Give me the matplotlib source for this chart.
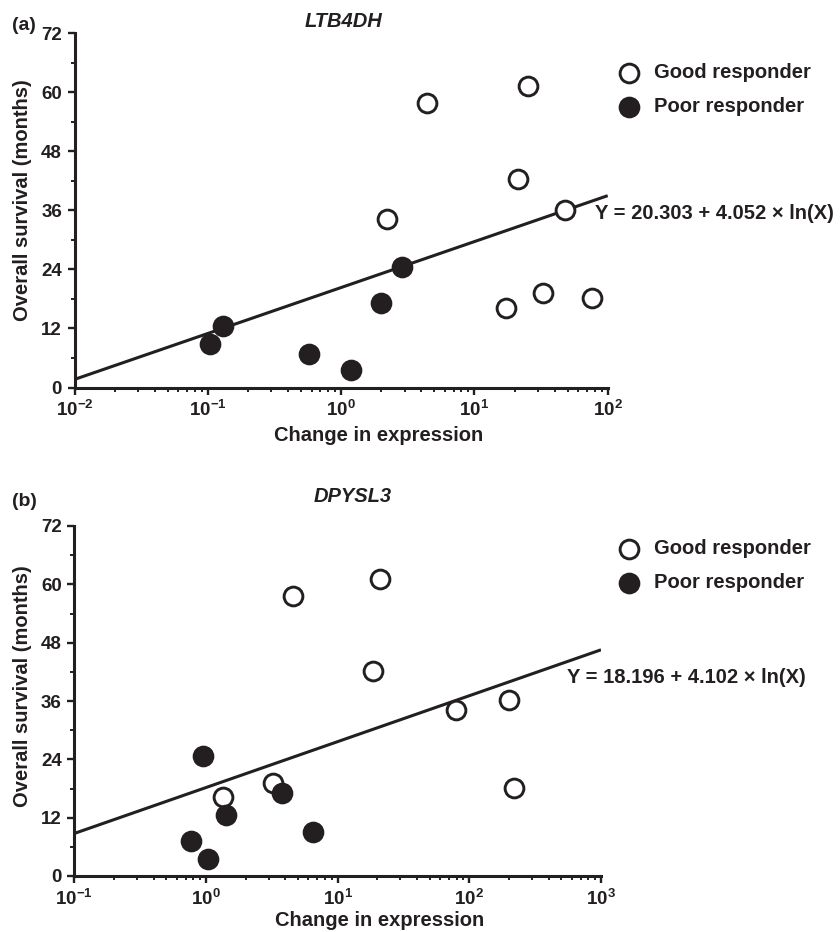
import numpy as np
import matplotlib
matplotlib.use("Agg")
import matplotlib.pyplot as plt
from matplotlib.ticker import FixedLocator, MultipleLocator, LogLocator, FuncFormatter

plt.rcParams["font.family"] = ["Liberation Sans", "DejaVu Sans"]
plt.rcParams["font.weight"] = "bold"
plt.rcParams["axes.labelweight"] = "bold"
plt.rcParams["mathtext.fontset"] = "custom"
plt.rcParams["mathtext.rm"] = "Liberation Sans:bold"
plt.rcParams["mathtext.bf"] = "Liberation Sans:bold"

INK = "#231f20"

# (a) LTB4DH
ltb_good_x = [2.22, 4.39, 25.1, 21.2, 47.9, 17.2, 32.5, 76.2]
ltb_good_y = [34.2, 57.8, 61.3, 42.3, 36.1, 16.1, 19.1, 18.1]
ltb_poor_x = [0.103, 0.129, 0.57, 1.18, 1.98, 2.86]
ltb_poor_y = [8.9, 12.4, 6.9, 3.5, 17.1, 24.5]
ltb_fit = (20.303, 4.052)
ltb_xrange = (1e-2, 1e2)

# (b) DPYSL3
dpy_good_x = [1.34, 3.24, 4.6, 20.9, 18.5, 78.7, 200, 218]
dpy_good_y = [16.2, 19.1, 57.6, 61.2, 42.2, 34.1, 36.2, 18.2]
dpy_poor_x = [0.954, 0.77, 1.03, 1.41, 3.76, 6.45]
dpy_poor_y = [24.7, 7.2, 3.6, 12.5, 17.1, 9.1]
dpy_fit = (18.196, 4.102)
dpy_xrange = (1e-1, 1e3)

y_ticks = [0, 12, 24, 36, 48, 60, 72]


def pow10_label(v, pos):
    return r"$\mathdefault{10^{%d}}$" % int(round(np.log10(v)))


def draw_panel(ax, good_x, good_y, poor_x, poor_y, fit, xrange, eq_xy, legend_top):
    lo, hi = xrange
    xs = np.geomspace(lo, hi, 50)
    ax.plot(xs, fit[0] + fit[1] * np.log(xs), color=INK, lw=2.2, zorder=2,
            solid_capstyle="butt")

    good = ax.scatter(good_x, good_y, s=13.5 ** 2, facecolor="white",
                      edgecolor=INK, linewidth=2.1, zorder=3, label="Good responder")
    poor = ax.scatter(poor_x, poor_y, s=13.5 ** 2, facecolor=INK,
                      edgecolor=INK, linewidth=2.1, zorder=4, label="Poor responder")

    eq = "Y = %.3f + %.3f \u00d7 ln(X)" % fit
    ax.text(eq_xy[0], eq_xy[1], eq, fontsize=14.5, color=INK, va="center",
            ha="left", clip_on=False)

    ax.set_xscale("log")
    ax.set_xlim(lo, hi)
    ax.set_ylim(0, 72)
    ax.yaxis.set_major_locator(FixedLocator(y_ticks))
    ax.yaxis.set_minor_locator(MultipleLocator(6))
    ax.xaxis.set_major_locator(LogLocator(base=10))
    ax.xaxis.set_minor_locator(LogLocator(base=10, subs=np.arange(2, 10)))
    ax.xaxis.set_major_formatter(FuncFormatter(pow10_label))
    ax.xaxis.set_minor_formatter(FuncFormatter(lambda v, p: ""))

    for side in ["top", "right"]:
        ax.spines[side].set_visible(False)
    for side in ["left", "bottom"]:
        ax.spines[side].set_linewidth(2.2)
        ax.spines[side].set_color(INK)
    ax.tick_params(which="major", direction="out", length=5, width=1.7,
                   labelsize=13.5, colors=INK, pad=4)
    ax.tick_params(which="minor", direction="out", length=2.6, width=1.4, colors=INK)

    ax.set_xlabel("Change in expression", fontsize=14.5, color=INK, va="center")
    ax.set_ylabel("Overall survival (months)", fontsize=14.5, color=INK, va="center")

    ax.legend(handles=[good, poor], loc="upper left", frameon=False,
              bbox_to_anchor=legend_top, bbox_transform=ax.figure.transFigure,
              fontsize=14.5, borderpad=0, borderaxespad=0, handlelength=1.0,
              handletextpad=0.7, labelspacing=0.75, labelcolor=INK)


fig = plt.figure(figsize=(8.4, 9.32), dpi=100)

ax_a = fig.add_axes([74.5 / 840, 1 - 387.5 / 932, 533.2 / 840, 354.5 / 932])
draw_panel(ax_a, ltb_good_x, ltb_good_y, ltb_poor_x, ltb_poor_y, ltb_fit,
           ltb_xrange, (80.4, 35.4), (619.3 / 840, 1 - 62.9 / 932))
ax_a.xaxis.set_label_coords(0.571, -0.134)
ax_a.yaxis.set_label_coords(-0.0975, 0.529)

ax_b = fig.add_axes([74.3 / 840, 1 - 876 / 932, 526.7 / 840, 350 / 932])
draw_panel(ax_b, dpy_good_x, dpy_good_y, dpy_poor_x, dpy_poor_y, dpy_fit,
           dpy_xrange, (548, 40.9), (619.3 / 840, 1 - 538.9 / 932))
ax_b.xaxis.set_label_coords(0.580, -0.126)
ax_b.yaxis.set_label_coords(-0.0985, 0.543)

# gene names and panel letters
fig.text(344 / 840, 1 - 21.7 / 932, "LTB4DH", fontsize=14.5, style="italic",
         ha="center", va="center", color=INK)
fig.text(353 / 840, 1 - 497 / 932, "DPYSL3", fontsize=14.5, style="italic",
         ha="center", va="center", color=INK)
fig.text(11.7 / 840, 1 - 25.7 / 932, "(a)", fontsize=14, ha="left", va="center",
         color=INK)
fig.text(11.7 / 840, 1 - 502 / 932, "(b)", fontsize=14, ha="left", va="center",
         color=INK)

fig.savefig("out.png", dpi=100, facecolor="white")
